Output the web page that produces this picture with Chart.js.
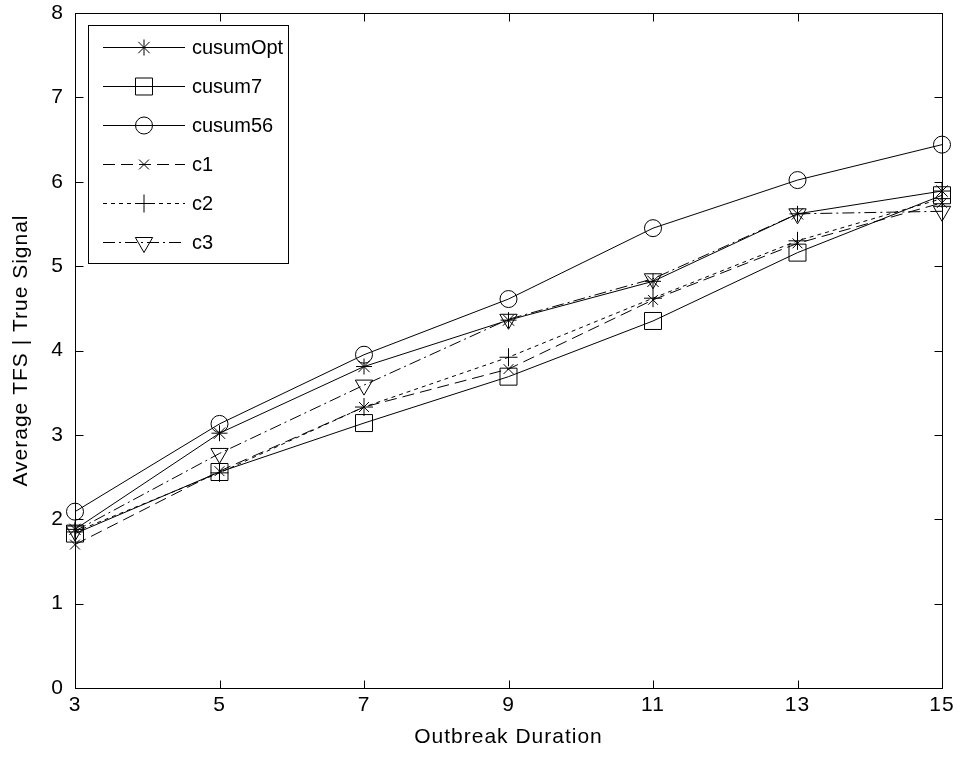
<!DOCTYPE html>
<html>
<head>
<meta charset="utf-8">
<script src="https://cdn.jsdelivr.net/npm/chart.js@4/dist/chart.umd.min.js"></script>
<style>
  html, body { margin: 0; padding: 0; background: #fff; }
  canvas { display: block; }
</style>
</head>
<body>
<canvas id="tfsChart" width="961" height="758"></canvas>
<script>
// outbreak durations (x) and average TFS per method (y)
const durations = [3, 5, 7, 9, 11, 13, 15];
const cusumOpt = [1.88, 3.02, 3.81, 4.36, 4.82, 5.62, 5.89];
const cusum7   = [1.83, 2.56, 3.14, 3.69, 4.35, 5.16, 5.84];
const cusum56  = [2.09, 3.13, 3.95, 4.61, 5.45, 6.02, 6.44];
const c1       = [1.70, 2.57, 3.33, 3.78, 4.60, 5.27, 5.75];
const c2       = [1.85, 2.55, 3.33, 3.92, 4.62, 5.30, 5.80];
const c3       = [1.86, 2.78, 3.59, 4.37, 4.85, 5.62, 5.65];
const seriesNames = ['cusumOpt', 'cusum7', 'cusum56', 'c1', 'c2', 'c3'];
const xTicks = [3, 5, 7, 9, 11, 13, 15];
const yTicks = [0, 1, 2, 3, 4, 5, 6, 7, 8];

const FONT = "'Liberation Sans', Arial, Helvetica, sans-serif";

// marker + line style per series (matlab-ish look)
const styles = [
  { pointStyle: 'star',     radius: 8,   rotation: 0,   dash: [] },
  { pointStyle: 'rect',     radius: 12,  rotation: 0,   dash: [] },
  { pointStyle: 'circle',   radius: 8.5, rotation: 0,   dash: [] },
  { pointStyle: 'crossRot', radius: 7,   rotation: 0,   dash: [12, 6] },
  { pointStyle: 'cross',    radius: 9,   rotation: 0,   dash: [4, 4] },
  { pointStyle: 'triangle', radius: 10,  rotation: 180, dash: [12, 4, 2, 4] }
];

const values = [cusumOpt, cusum7, cusum56, c1, c2, c3];

function toPoints(arr) {
  return durations.map((d, i) => ({ x: d, y: arr[i] }));
}

const datasets = values.map((arr, i) => ({
  label: seriesNames[i],
  data: toPoints(arr),
  borderColor: '#000',
  borderWidth: 1,
  borderDash: styles[i].dash,
  tension: 0,
  fill: false,
  clip: false,
  pointStyle: styles[i].pointStyle,
  pointRadius: styles[i].radius,
  pointRotation: styles[i].rotation,
  pointBorderColor: '#000',
  pointBackgroundColor: 'rgba(0,0,0,0)',
  pointBorderWidth: 1
}));

// slightly wider axis text, like the matlab export
const spacingPlugin = {
  id: 'spacing',
  beforeDraw(chart) { chart.ctx.letterSpacing = '1px'; },
  afterDraw(chart) { chart.ctx.letterSpacing = '0px'; }
};

// box around plot with inward ticks on all four sides
const framePlugin = {
  id: 'frame',
  afterDatasetsDraw(chart) {
    const { ctx, chartArea: a, scales: { x, y } } = chart;
    const L = Math.round(a.left) + 0.5, R = Math.round(a.right) + 0.5;
    const T = Math.round(a.top) + 0.5, B = Math.round(a.bottom) + 0.5;
    const tl = 8;
    ctx.save();
    ctx.strokeStyle = '#000';
    ctx.lineWidth = 1;
    ctx.setLineDash([]);
    ctx.strokeRect(L, T, R - L, B - T);
    ctx.beginPath();
    xTicks.forEach(v => {
      const px = Math.round(x.getPixelForValue(v)) + 0.5;
      ctx.moveTo(px, B); ctx.lineTo(px, B - tl);
      ctx.moveTo(px, T); ctx.lineTo(px, T + tl);
    });
    yTicks.forEach(v => {
      const py = Math.round(y.getPixelForValue(v)) + 0.5;
      ctx.moveTo(L, py); ctx.lineTo(L + tl, py);
      ctx.moveTo(R, py); ctx.lineTo(R - tl, py);
    });
    ctx.stroke();
    ctx.restore();
  }
};

// matlab style legend box, upper left
const legendPlugin = {
  id: 'boxLegend',
  afterDraw(chart) {
    const { ctx, chartArea: a } = chart;
    const top = Math.round(a.top);
    const box = { x: 88, y: top + 12, w: 200, h: 238 };
    const rowY0 = top + 34, rowStep = 39;
    ctx.save();
    ctx.letterSpacing = '0px';
    ctx.fillStyle = '#fff';
    ctx.fillRect(box.x, box.y, box.w, box.h);
    ctx.strokeStyle = '#000';
    ctx.lineWidth = 1;
    ctx.strokeRect(box.x + 0.5, box.y + 0.5, box.w, box.h);
    ctx.font = '20px ' + FONT;
    ctx.textBaseline = 'middle';
    chart.data.datasets.forEach((ds, i) => {
      const yy = Math.round(rowY0 + i * rowStep) + 0.5;
      ctx.strokeStyle = '#000';
      ctx.setLineDash(ds.borderDash);
      ctx.beginPath();
      ctx.moveTo(103, yy);
      ctx.lineTo(185, yy);
      ctx.stroke();
      ctx.setLineDash([]);
      ctx.fillStyle = 'rgba(0,0,0,0)';
      Chart.helpers.drawPoint(ctx, {
        pointStyle: ds.pointStyle,
        radius: ds.pointRadius,
        rotation: ds.pointRotation,
        borderWidth: 1
      }, 144, yy);
      ctx.fillStyle = '#000';
      ctx.fillText(ds.label, 192, yy + 1);
    });
    ctx.restore();
  }
};

new Chart(document.getElementById('tfsChart'), {
  type: 'line',
  data: { datasets },
  plugins: [spacingPlugin, framePlugin, legendPlugin],
  options: {
    responsive: false,
    animation: false,
    layout: { padding: { top: 12, right: 19, left: 0, bottom: 0 } },
    plugins: {
      legend: { display: false },
      tooltip: { enabled: false }
    },
    scales: {
      x: {
        type: 'linear',
        min: 3,
        max: 15,
        afterFit(s) { s.height = 70; s.paddingLeft = 0; s.paddingRight = 0; },
        afterBuildTicks(s) { s.ticks = xTicks.map(v => ({ value: v })); },
        grid: { display: false, drawTicks: false },
        border: { display: false },
        ticks: { color: '#000', padding: 5, font: { family: FONT, size: 21 } },
        title: {
          display: true,
          text: 'Outbreak Duration',
          color: '#000',
          padding: { top: 0, bottom: 8 },
          font: { family: FONT, size: 21 }
        }
      },
      y: {
        min: 0,
        max: 8,
        afterFit(s) { s.width = 75; s.paddingTop = 0; s.paddingBottom = 0; },
        afterBuildTicks(s) { s.ticks = yTicks.map(v => ({ value: v })); },
        grid: { display: false, drawTicks: false },
        border: { display: false },
        ticks: { color: '#000', padding: 11, font: { family: FONT, size: 21 } },
        title: {
          display: true,
          text: 'Average TFS | True Signal',
          color: '#000',
          padding: { top: 9, bottom: 0 },
          font: { family: FONT, size: 21 }
        }
      }
    }
  }
});
</script>
</body>
</html>
